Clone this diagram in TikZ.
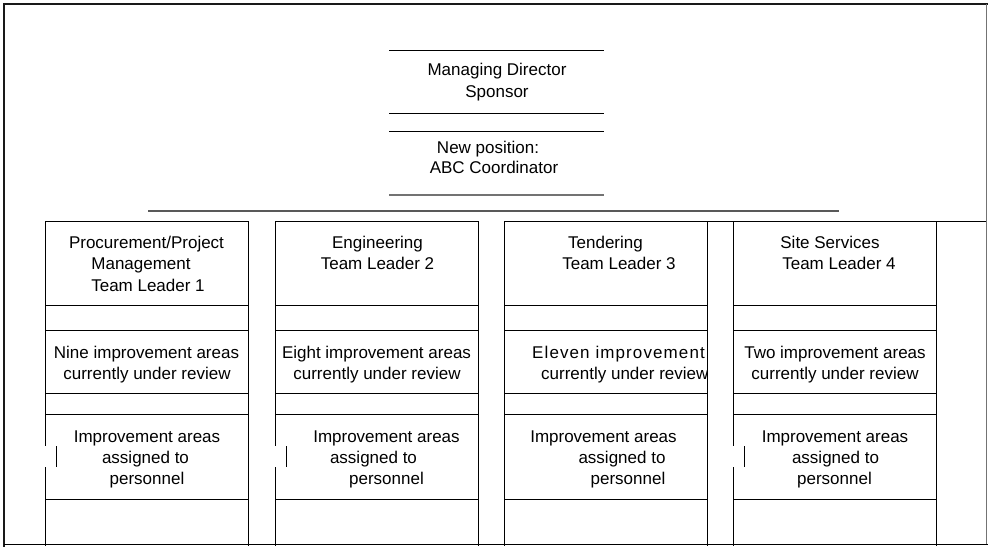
\documentclass[tikz,border=0pt]{standalone}
\usepackage{fontspec}
\setmainfont{Liberation Sans}
\begin{document}
\begin{tikzpicture}[x=1pt,y=-1pt,
  txt/.style={font=\fontsize{17}{20}\selectfont, inner sep=0pt, anchor=mid, yshift=-3.5pt},
  txtw/.style={txt, anchor=mid west},
  cellline/.style={line width=1pt, black},
  grayline/.style={line width=1.4pt, black!55},
  thickgray/.style={line width=2pt, black!65}]
\useasboundingbox (0,0) rectangle (988,552);
% outer frame
\draw[line width=2.6pt, black!90] (4,3) -- (4,547);
\draw[line width=2pt, black!90] (3,4) -- (988,4);
\draw[grayline] (986.5,4) -- (986.5,544);
\draw[cellline] (4,544) -- (988,544);
% top section lines
\draw[cellline] (389,50) -- (604,50);
\draw[cellline] (389,113) -- (604,113);
\draw[cellline] (389,131) -- (604,131);
\draw[grayline] (389,195) -- (604,195);
\draw[thickgray] (148,211) -- (839,211);
% column grids
\draw[cellline] (45,221) -- (248,221);
\draw[cellline] (275,221) -- (478,221);
\draw[cellline] (504,221) -- (986,221);
\foreach \L in {45,275,504,733}{
  \foreach \y in {305,330,393,414,499}{
    \draw[cellline] (\L,\y) -- (\L+203,\y);
  }
  \draw[cellline] (\L+203,221) -- (\L+203,546);
}
\foreach \L in {45,275,733}{
  \draw[cellline] (\L,221) -- (\L,446);
  \draw[cellline] (\L+11,446) -- (\L+11,467);
  \draw[cellline] (\L,467) -- (\L,546);
}
\draw[cellline] (504,221) -- (504,546);
% top texts
\node[txt] (md1) at (497,69) {Managing Director};
\node[txt] (md2) at (497,91) {Sponsor};
\node[txt] (np1) at (488,147) {New position:};
\node[txt] (np2) at (494,167) {ABC Coordinator};
% column 1
\node[txt] (c1t1) at (146.5,242) {Procurement/Project};
\node[txt] (c1t2) at (141,263) {Management};
\node[txt] (c1t3) at (148,285) {Team Leader 1};
\node[txt] (c1r1) at (146.5,352) {Nine improvement areas};
\node[txt] (c1r2) at (147,373) {currently under review};
\node[txt] (c1a1) at (147,436) {Improvement areas};
\node[txt] (c1a2) at (145.5,457) {assigned to};
\node[txt] (c1a3) at (147,478) {personnel};
% column 2
\node[txt] (c2t1) at (377.5,242) {Engineering};
\node[txt] (c2t2) at (377.5,263) {Team Leader 2};
\node[txt] (c2r1) at (376.5,352) {Eight improvement areas};
\node[txt] (c2r2) at (377,373) {currently under review};
\node[txt] (c2a1) at (386.5,436) {Improvement areas};
\node[txt] (c2a2) at (373.5,457) {assigned to};
\node[txt] (c2a3) at (386.5,478) {personnel};
% column 3
\node[txt] (c3t1) at (605.5,242) {Tendering};
\node[txt] (c3t2) at (619,263) {Team Leader 3};
\begin{scope}
  \clip (504,330) rectangle (707,393);
  \node[txtw] (c3r1) at (532,352) {\addfontfeature{LetterSpace=6.5}Eleven improvement areas};
  \node[txtw] (c3r2) at (541,373) {currently under review};
\end{scope}
\node[txt] (c3a1) at (603.5,436) {Improvement areas};
\node[txt] (c3a2) at (622,457) {assigned to};
\node[txt] (c3a3) at (628,478) {personnel};
% column 4
\node[txt] (c4t1) at (830,242) {Site Services};
\node[txt] (c4t2) at (839,263) {Team Leader 4};
\node[txt] (c4r1) at (835,352) {Two improvement areas};
\node[txt] (c4r2) at (835,373) {currently under review};
\node[txt] (c4a1) at (835,436) {Improvement areas};
\node[txt] (c4a2) at (835.5,457) {assigned to};
\node[txt] (c4a3) at (834.5,478) {personnel};
\end{tikzpicture}
\end{document}
